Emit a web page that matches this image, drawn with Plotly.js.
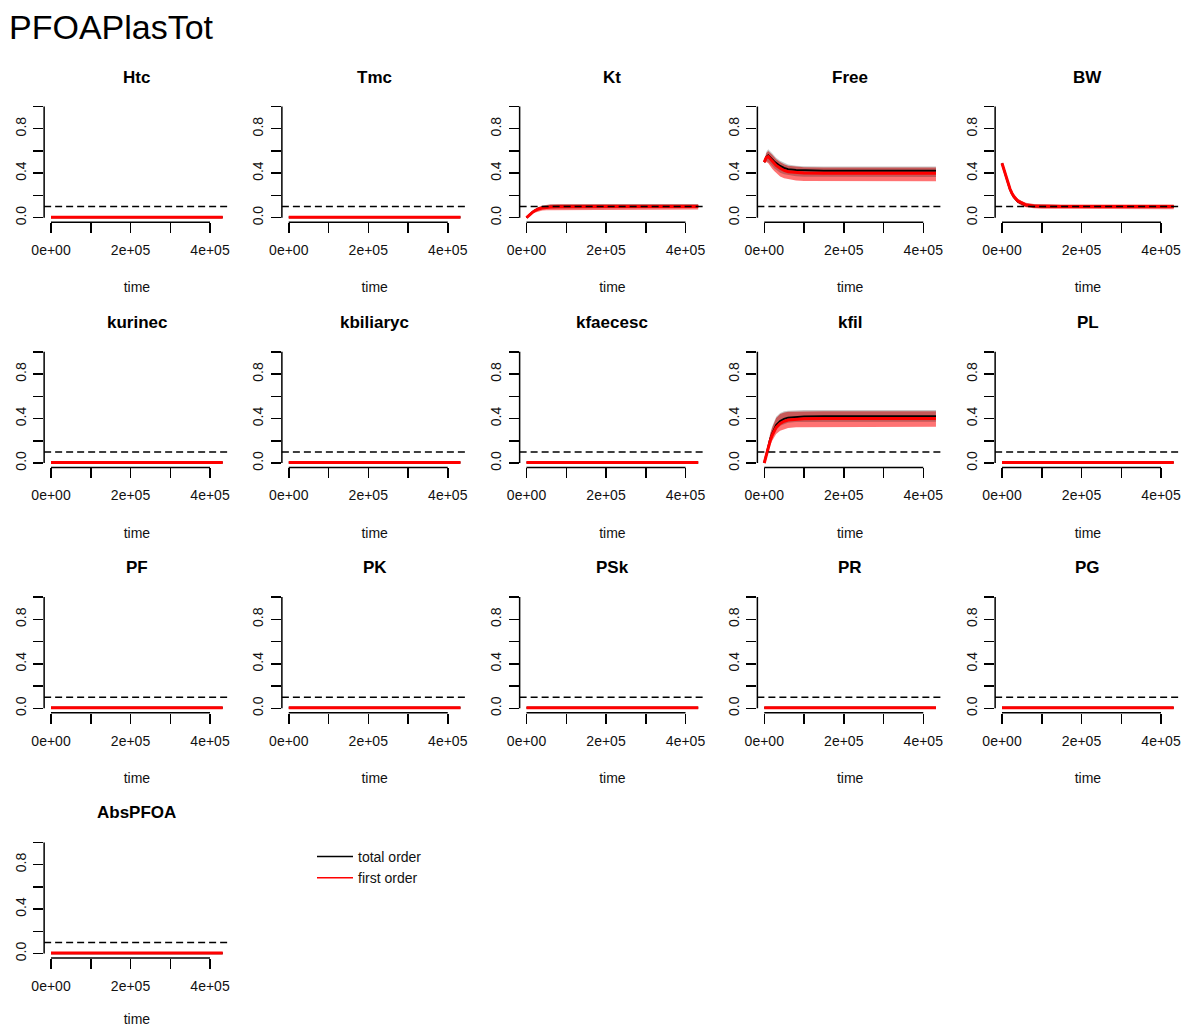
<!DOCTYPE html>
<html>
<head>
<meta charset="utf-8">
<script src="https://cdn.plot.ly/plotly-3.0.1.min.js"></script>
<style>html,body{margin:0;padding:0;background:#fff;}</style>
</head>
<body>
<div id="chart" style="width:1184px;height:1027px;"></div>
<script>
// ---------------- data ----------------
const mainTitle = 'PFOAPlasTot';
const xAxisLabel = 'time';
const params = ['Htc','Tmc','Kt','Free','BW','kurinec','kbiliaryc','kfaecesc','kfil','PL','PF','PK','PSk','PR','PG','AbsPFOA'];
const seriesNames = ['total order', 'first order'];
const threshold = 0.1;

const time = [0, 5000, 10000, 15000, 20000, 25000, 30000, 40000, 50000, 60000, 80000, 100000, 150000, 200000, 300000, 432000];

// near-zero indices (flat panels)
const flatFirst = [0.005, 0.005, 0.005, 0.005, 0.005, 0.005, 0.005, 0.005, 0.005, 0.005, 0.005, 0.005, 0.005, 0.005, 0.005, 0.005];
const flatTotal = [0.004, 0.004, 0.004, 0.004, 0.004, 0.004, 0.004, 0.004, 0.004, 0.004, 0.004, 0.004, 0.004, 0.004, 0.004, 0.004];

// Kt
const ktFirst   = [0, 0.018, 0.034, 0.048, 0.060, 0.070, 0.078, 0.088, 0.094, 0.097, 0.099, 0.100, 0.100, 0.100, 0.100, 0.100];
const ktTotal   = [0, 0.020, 0.037, 0.050, 0.062, 0.072, 0.080, 0.090, 0.096, 0.099, 0.101, 0.102, 0.102, 0.102, 0.102, 0.102];
const ktFirstLo = [0, 0.014, 0.026, 0.036, 0.045, 0.052, 0.057, 0.064, 0.068, 0.070, 0.072, 0.073, 0.073, 0.073, 0.073, 0.073];
const ktFirstHi = [0, 0.022, 0.042, 0.058, 0.073, 0.085, 0.095, 0.107, 0.114, 0.118, 0.120, 0.121, 0.121, 0.121, 0.121, 0.121];
const ktTotalLo = [0, 0.017, 0.031, 0.043, 0.053, 0.062, 0.068, 0.077, 0.082, 0.085, 0.087, 0.088, 0.088, 0.088, 0.088, 0.088];
const ktTotalHi = [0, 0.023, 0.043, 0.060, 0.075, 0.087, 0.097, 0.109, 0.116, 0.120, 0.122, 0.123, 0.123, 0.123, 0.123, 0.123];

// Free
const freeFirst   = [0.500, 0.540, 0.550, 0.530, 0.510, 0.490, 0.470, 0.445, 0.425, 0.413, 0.405, 0.402, 0.400, 0.400, 0.400, 0.400];
const freeTotal   = [0.500, 0.545, 0.560, 0.545, 0.525, 0.505, 0.490, 0.465, 0.447, 0.436, 0.428, 0.425, 0.423, 0.423, 0.423, 0.423];
const freeFirstLo = [0.490, 0.500, 0.490, 0.470, 0.440, 0.420, 0.400, 0.370, 0.355, 0.345, 0.335, 0.330, 0.328, 0.327, 0.327, 0.327];
const freeFirstHi = [0.510, 0.580, 0.600, 0.585, 0.565, 0.545, 0.525, 0.500, 0.480, 0.468, 0.458, 0.454, 0.452, 0.452, 0.452, 0.452];
const freeTotalLo = [0.490, 0.510, 0.500, 0.485, 0.465, 0.445, 0.430, 0.405, 0.390, 0.380, 0.372, 0.368, 0.366, 0.365, 0.365, 0.365];
const freeTotalHi = [0.510, 0.590, 0.615, 0.600, 0.580, 0.560, 0.540, 0.513, 0.492, 0.478, 0.468, 0.463, 0.460, 0.460, 0.460, 0.460];

// BW
const bwFirst   = [0.490, 0.430, 0.370, 0.310, 0.260, 0.220, 0.190, 0.150, 0.130, 0.115, 0.105, 0.102, 0.100, 0.100, 0.100, 0.100];
const bwTotal   = [0.490, 0.425, 0.365, 0.305, 0.255, 0.215, 0.185, 0.145, 0.125, 0.112, 0.103, 0.100, 0.099, 0.099, 0.099, 0.099];
const bwFirstLo = [0.480, 0.410, 0.350, 0.290, 0.240, 0.200, 0.170, 0.130, 0.108, 0.095, 0.085, 0.080, 0.078, 0.077, 0.077, 0.077];
const bwFirstHi = [0.500, 0.445, 0.390, 0.330, 0.280, 0.240, 0.210, 0.170, 0.150, 0.135, 0.124, 0.120, 0.118, 0.118, 0.118, 0.118];
const bwTotalLo = [0.480, 0.415, 0.355, 0.295, 0.245, 0.205, 0.175, 0.135, 0.113, 0.100, 0.090, 0.086, 0.084, 0.084, 0.084, 0.084];
const bwTotalHi = [0.500, 0.440, 0.385, 0.325, 0.275, 0.235, 0.205, 0.165, 0.145, 0.130, 0.120, 0.117, 0.115, 0.115, 0.115, 0.115];

// kfil
const kfilFirst   = [0, 0.070, 0.140, 0.200, 0.250, 0.290, 0.320, 0.355, 0.375, 0.387, 0.395, 0.398, 0.400, 0.400, 0.400, 0.400];
const kfilTotal   = [0, 0.075, 0.150, 0.215, 0.265, 0.305, 0.340, 0.377, 0.397, 0.408, 0.416, 0.419, 0.420, 0.420, 0.420, 0.420];
const kfilFirstLo = [0, 0.055, 0.110, 0.160, 0.200, 0.235, 0.260, 0.290, 0.305, 0.315, 0.322, 0.325, 0.326, 0.326, 0.326, 0.326];
const kfilFirstHi = [0, 0.090, 0.180, 0.260, 0.320, 0.370, 0.405, 0.440, 0.455, 0.460, 0.463, 0.464, 0.465, 0.465, 0.465, 0.465];
const kfilTotalLo = [0, 0.065, 0.130, 0.185, 0.235, 0.270, 0.300, 0.335, 0.352, 0.362, 0.368, 0.370, 0.371, 0.371, 0.371, 0.371];
const kfilTotalHi = [0, 0.095, 0.190, 0.270, 0.330, 0.380, 0.415, 0.450, 0.465, 0.470, 0.474, 0.476, 0.477, 0.477, 0.477, 0.477];

const xTickVals = [0, 100000, 200000, 300000, 400000];
const xTickText = ['0e+00', '', '2e+05', '', '4e+05'];
const yTickVals = [0, 0.2, 0.4, 0.6, 0.8, 1.0];
const yTickText = ['0.0', '', '0.4', '', '0.8', ''];

// table built from the arrays above
const bands = {
  Kt:   {first: ktFirst,   total: ktTotal,   firstLo: ktFirstLo,   firstHi: ktFirstHi,   totalLo: ktTotalLo,   totalHi: ktTotalHi},
  Free: {first: freeFirst, total: freeTotal, firstLo: freeFirstLo, firstHi: freeFirstHi, totalLo: freeTotalLo, totalHi: freeTotalHi},
  BW:   {first: bwFirst,   total: bwTotal,   firstLo: bwFirstLo,   firstHi: bwFirstHi,   totalLo: bwTotalLo,   totalHi: bwTotalHi},
  kfil: {first: kfilFirst, total: kfilTotal, firstLo: kfilFirstLo, firstHi: kfilFirstHi, totalLo: kfilTotalLo, totalHi: kfilTotalHi}
};

// ---------------- layout geometry ----------------
const W = 1184, H = 1027;
const FONT = 'Liberation Sans, Arial, Helvetica, sans-serif';
const tmin = Math.min(...time), tmax = Math.max(...time);
const xRange = [tmin - 0.04 * (tmax - tmin), tmax + 0.04 * (tmax - tmin)];
const yRange = [0 - 0.04, 1 + 0.04];
const colX0 = 51, colStep = 237.75, pxPerX = 159 / 400000;
const rowY0 = 217.7, rowStep = 245.3, pxPerY = 111.2;

const data = [];
const layout = {
  width: W, height: H,
  margin: {l: 0, r: 0, t: 0, b: 0},
  paper_bgcolor: '#ffffff', plot_bgcolor: 'rgba(0,0,0,0)',
  hovermode: false,
  font: {family: FONT, color: '#000'},
  title: {text: mainTitle, font: {family: FONT, size: 34, color: '#000'},
          x: 9 / W, xanchor: 'left', xref: 'container', y: 1 - 27 / H, yanchor: 'middle', yref: 'container'},
  showlegend: true,
  legend: {x: 312 / W, y: 1 - 841 / H, xanchor: 'left', yanchor: 'top', bgcolor: 'rgba(0,0,0,0)',
           font: {family: FONT, size: 14, color: '#111'}, tracegroupgap: 0, itemwidth: 36},
  shapes: [], annotations: []
};

params.forEach((name, i) => {
  const col = i % 5, row = Math.floor(i / 5);
  const n = i === 0 ? '' : String(i + 1);
  const x0 = colX0 + colStep * col;
  const left = x0 + xRange[0] * pxPerX, right = x0 + xRange[1] * pxPerX;
  const y0 = rowY0 + rowStep * row;
  const top = y0 - yRange[1] * pxPerY, bottom = y0 - yRange[0] * pxPerY;
  const xa = 'x' + n, ya = 'y' + n;

  layout['xaxis' + n] = {
    domain: [left / W, right / W], anchor: ya, range: xRange,
    tickmode: 'array', tickvals: xTickVals, ticktext: xTickText,
    ticks: 'outside', ticklen: 10, tickwidth: 1.5, tickcolor: '#000',
    showgrid: false, zeroline: false, showline: false, ticklabelstandoff: 5,
    tickfont: {family: FONT, size: 14, color: '#111'},
    title: {text: xAxisLabel, font: {family: FONT, size: 14, color: '#111'}, standoff: 25}
  };
  layout['yaxis' + n] = {
    domain: [1 - bottom / H, 1 - top / H], anchor: xa, range: yRange,
    tickmode: 'array', tickvals: yTickVals, ticktext: yTickText,
    ticks: 'outside', ticklen: 10, tickwidth: 1.5, tickcolor: '#000', tickangle: -90,
    showgrid: false, zeroline: false, showline: false, ticklabelstandoff: 2,
    tickfont: {family: FONT, size: 14, color: '#111'}
  };

  // R-style axis lines spanning first..last tick
  layout.shapes.push({type: 'line', xref: xa, yref: ya + ' domain',
    x0: xTickVals[0], x1: xTickVals[xTickVals.length - 1], y0: 0, y1: 0,
    line: {color: '#000', width: 1.5}});
  layout.shapes.push({type: 'line', xref: xa + ' domain', yref: ya,
    x0: 0, x1: 0, y0: yTickVals[0], y1: yTickVals[yTickVals.length - 1],
    line: {color: '#000', width: 1.5}});
  // threshold
  layout.shapes.push({type: 'line', xref: xa + ' domain', yref: ya,
    x0: 0, x1: 1, y0: threshold, y1: threshold,
    line: {color: '#000', width: 1.5, dash: '7px,4px'}});

  layout.annotations.push({text: '<b>' + name + '</b>', xref: xa + ' domain', yref: ya + ' domain',
    x: 0.5, y: 1 + 25 / (bottom - top), xanchor: 'center', yanchor: 'middle', showarrow: false,
    font: {family: FONT, size: 17, color: '#000'}});

  const s = bands[name];
  const first = s ? s.first : flatFirst;
  const total = s ? s.total : flatTotal;
  if (s) {
    data.push({type: 'scatter', mode: 'lines', xaxis: xa, yaxis: ya, showlegend: false,
      x: time.concat(time.slice().reverse()), y: s.firstHi.concat(s.firstLo.slice().reverse()),
      fill: 'toself', fillcolor: 'rgba(255,0,0,0.55)', line: {width: 0}});
    data.push({type: 'scatter', mode: 'lines', xaxis: xa, yaxis: ya, showlegend: false,
      x: time.concat(time.slice().reverse()), y: s.totalHi.concat(s.totalLo.slice().reverse()),
      fill: 'toself', fillcolor: 'rgba(0,0,0,0.22)', line: {width: 0}});
  }
  data.push({type: 'scatter', mode: 'lines', xaxis: xa, yaxis: ya, showlegend: false,
    name: seriesNames[0], x: time, y: total, line: {color: '#000', width: 2}});
  data.push({type: 'scatter', mode: 'lines', xaxis: xa, yaxis: ya, showlegend: false,
    name: seriesNames[1], x: time, y: first, line: {color: '#ff0000', width: 3}});
});

// legend entries
data.push({type: 'scatter', mode: 'lines', x: [null], y: [null], name: seriesNames[0],
  line: {color: '#000', width: 1.5}, showlegend: true});
data.push({type: 'scatter', mode: 'lines', x: [null], y: [null], name: seriesNames[1],
  line: {color: '#ff0000', width: 1.5}, showlegend: true});

Plotly.newPlot('chart', data, layout, {displayModeBar: false, staticPlot: true});
</script>
</body>
</html>
